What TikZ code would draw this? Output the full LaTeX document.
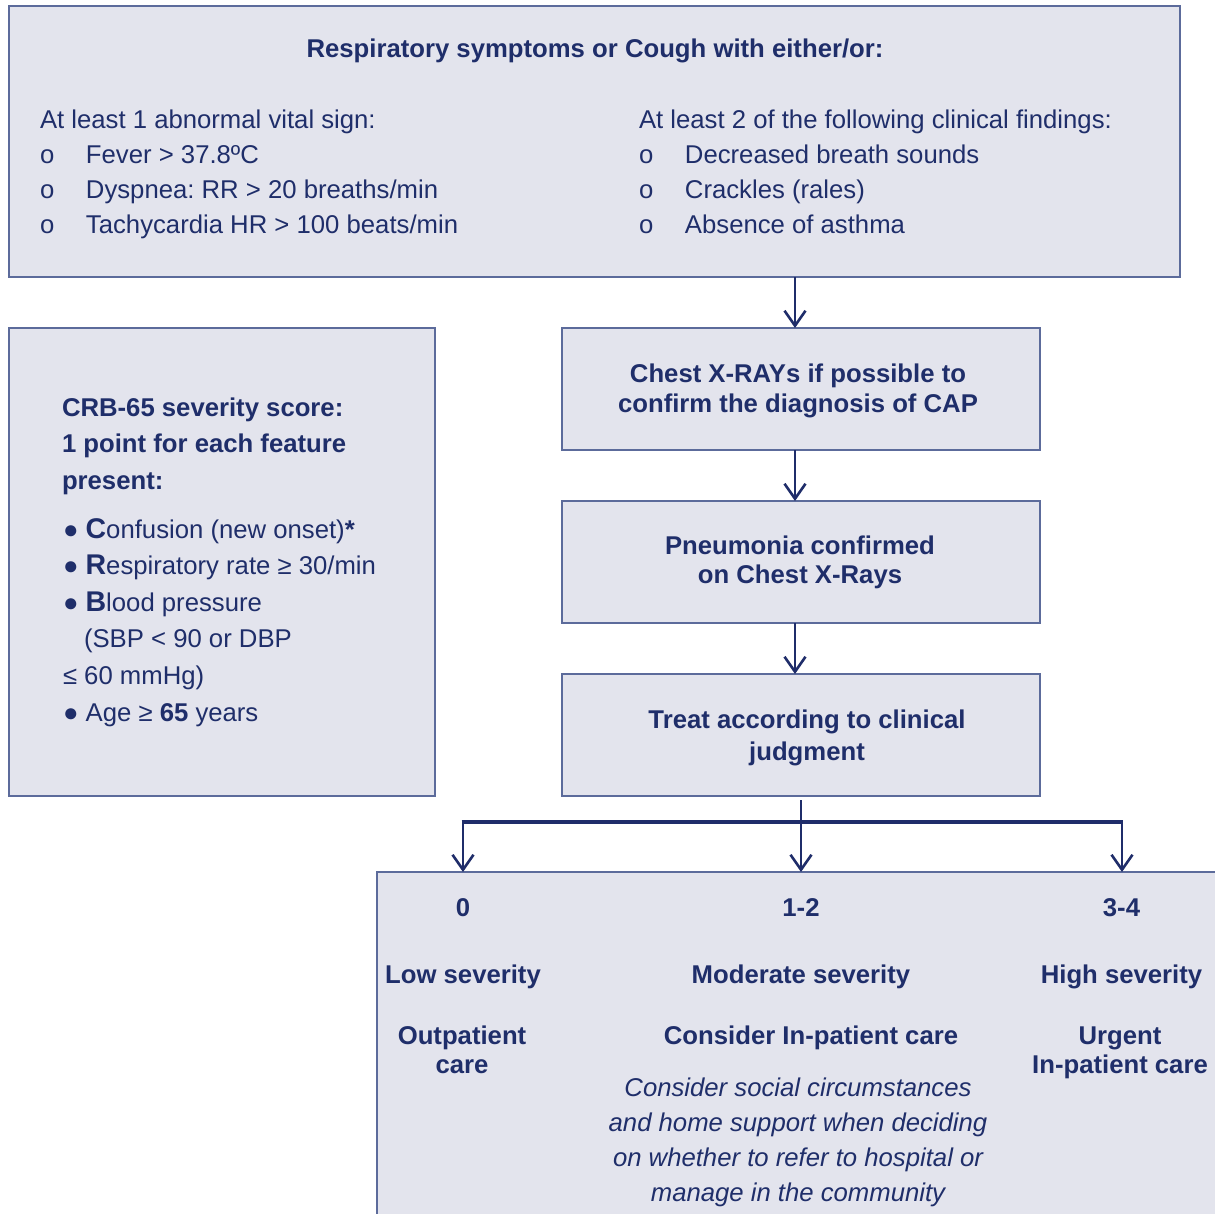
\documentclass[tikz,border=0pt]{standalone}
\usepackage{fontspec}
\setmainfont{Liberation Sans}
\usetikzlibrary{arrows.meta}
\frenchspacing

\definecolor{panelfill}{RGB}{227,228,237}
\definecolor{panelrule}{RGB}{92,107,155}
\definecolor{ink}{RGB}{31,46,106}
\definecolor{wire}{RGB}{31,45,106}

% body size with a chosen line pitch
\newcommand{\setsize}[1]{\fontsize{25.7}{#1}\selectfont}
% enlarged bold initial of a CRB-65 criterion
\newcommand{\initial}[1]{{\fontsize{28.5}{10}\selectfont\bfseries #1}}
% hollow "o" list marker with its tab stop
\newcommand{\ob}{\makebox[46pt][l]{o}}

\tikzset{
  panel/.style={draw=panelrule, fill=panelfill, line width=2pt, inner sep=0pt, outer sep=0pt},
  plain/.style={inner sep=0pt, outer sep=0pt, text=ink, font={\setsize{34.7}}},
  strong/.style={plain, font={\bfseries\setsize{30}}},
  flow/.style={draw=wire, line width=2.6pt, -{Straight Barb[length=15pt,width=21pt]}},
  bar/.style={draw=wire, line width=3.4pt},
}

\begin{document}
\begin{tikzpicture}[x=1pt,y=-1pt]
\useasboundingbox (0,0) rectangle (1215,1213);
\clip (0,0) rectangle (1215,1213);
\fill[white] (0,0) rectangle (1215,1213);

% ---------- boxes ----------
\node[panel, anchor=north west, minimum width=1171pt, minimum height=271pt] (symptoms) at (9,6) {};
\node[panel, anchor=north west, minimum width=426pt, minimum height=468pt] (crb) at (9,328) {};
\node[panel, anchor=north west, minimum width=478pt, minimum height=122pt] (xray) at (562,328) {};
\node[panel, anchor=north west, minimum width=478pt, minimum height=122pt] (confirmed) at (562,501) {};
\node[panel, anchor=north west, minimum width=478pt, minimum height=122pt] (treat) at (562,674) {};
\node[panel, anchor=north west, minimum width=900pt, minimum height=420pt] (severity) at (377,872) {};

% ---------- entry criteria (multi-line nodes sit on their last baseline) ----------
\node[strong, anchor=base] (symptomstitle) at (595,57)
  {Respiratory symptoms or Cough with either/or:};
\node[plain, anchor=base west, align=left] (vitals) at (40,233)
  {At least 1 abnormal vital sign:\\
   \ob Fever > 37.8ºC\\
   \ob Dyspnea: RR > 20 breaths/min\\
   \ob Tachycardia HR > 100 beats/min};
\node[plain, anchor=base west, align=left] (findings) at (639,233)
  {At least 2 of the following clinical findings:\\
   \ob Decreased breath sounds\\
   \ob Crackles (rales)\\
   \ob Absence of asthma};

% ---------- CRB-65 score ----------
\node[strong, anchor=base west, align=left, font={\bfseries\setsize{36.5}}] (crbhead) at (62,489)
  {CRB-65 severity score:\\1 point for each feature\\present:};
\node[plain, anchor=base west, align=left, font={\setsize{36.6}}] (crblist) at (63,721)
  {● \initial{C}onfusion (new onset)\textbf{*}\\
   ● \initial{R}espiratory rate ≥ 30/min\\
   ● \initial{B}lood pressure\\
   \hspace*{21pt}(SBP < 90 or DBP\\
   ≤ 60 mmHg)\\
   ● Age ≥ \textbf{65} years};

% ---------- pathway ----------
\node[strong, anchor=base, align=center, font={\bfseries\setsize{30.4}}] (xraytext) at (798,412.8)
  {Chest X-RAYs if possible to\\confirm the diagnosis of CAP};
\node[strong, anchor=base, align=center, font={\bfseries\setsize{29.4}}] (confirmedtext) at (800,583.4)
  {Pneumonia confirmed\\on Chest X-Rays};
\node[strong, anchor=base, align=center, font={\bfseries\setsize{31.7}}] (treattext) at (807,760)
  {Treat according to clinical\\judgment};

% ---------- severity bands ----------
\node[strong, anchor=base] (scorelow) at (463,916) {0};
\node[strong, anchor=base] (scoremid) at (801,916) {1-2};
\node[strong, anchor=base] (scorehigh) at (1121.5,916) {3-4};
\node[strong, anchor=base] (bandlow) at (463,983) {Low severity};
\node[strong, anchor=base] (bandmid) at (801,983) {Moderate severity};
\node[strong, anchor=base] (bandhigh) at (1121.5,983) {High severity};
\node[strong, anchor=base, align=center, font={\bfseries\setsize{29.5}}] (carelow) at (462,1073.5)
  {Outpatient\\care};
\node[strong, anchor=base] (caremid) at (811,1044) {Consider In-patient care};
\node[strong, anchor=base, align=center, font={\bfseries\setsize{29.5}}] (carehigh) at (1120,1073.5)
  {Urgent\\In-patient care};
\node[plain, anchor=base, align=center, font={\itshape\setsize{35}}] (caremidnote) at (798,1201)
  {Consider social circumstances\\
   and home support when deciding\\
   on whether to refer to hospital or\\
   manage in the community};

% ---------- connectors ----------
\coordinate (trunk) at (795,0);
\coordinate (mid) at (801,0);
\coordinate (treatfoot) at ([yshift=-4pt]treat.south);
\coordinate (lowknee) at (463,822);
\coordinate (highknee) at (1122,822);

\draw[flow] (symptoms.south -| trunk) -- (xray.north -| trunk);
\draw[flow] (xray.south -| trunk) -- (confirmed.north -| trunk);
\draw[flow] (confirmed.south -| trunk) -- (treat.north -| trunk);
\draw[bar] ([xshift=-1.3pt]lowknee) -- ([xshift=1.3pt]highknee);
\draw[flow] (treatfoot -| mid) -- (severity.north -| mid);
\draw[flow] (lowknee) -- (severity.north -| lowknee);
\draw[flow] (highknee) -- (severity.north -| highknee);
\end{tikzpicture}
\end{document}
